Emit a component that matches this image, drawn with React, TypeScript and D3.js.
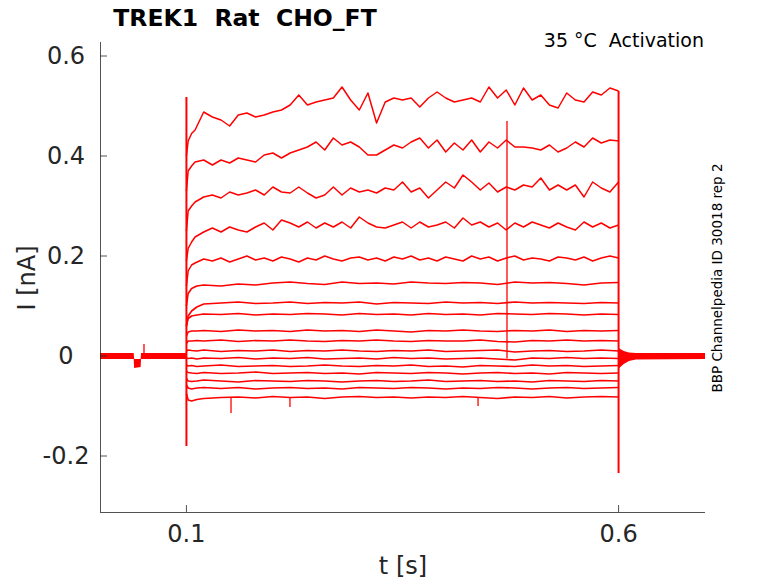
import * as d3 from "d3";

// Axis ticks
const xTicks = [0.1, 0.6];
const yTicks = [-0.2, 0, 0.2, 0.4, 0.6];

// Sample times (s) for the large sweeps: onset, then every 10 ms
const fineTimes = [
  0.1, 0.102, 0.106, 0.11, 0.12, 0.13, 0.14, 0.15, 0.16, 0.17, 0.18, 0.19, 0.2, 0.21, 0.22,
  0.23, 0.24, 0.25, 0.26, 0.27, 0.28, 0.29, 0.3, 0.31, 0.32, 0.33, 0.34, 0.35, 0.36, 0.37,
  0.38, 0.39, 0.4, 0.41, 0.42, 0.43, 0.44, 0.45, 0.46, 0.47, 0.48, 0.49, 0.5, 0.51, 0.52,
  0.53, 0.54, 0.55, 0.56, 0.57, 0.58, 0.59, 0.6,
];

// Sample times (s) for the small sweeps: onset, then every 20 ms
const coarseTimes = [
  0.1, 0.102, 0.106, 0.112, 0.12, 0.14, 0.16, 0.18, 0.2, 0.22, 0.24, 0.26, 0.28, 0.3, 0.32,
  0.34, 0.36, 0.38, 0.4, 0.42, 0.44, 0.46, 0.48, 0.5, 0.52, 0.54, 0.56, 0.58, 0.6,
];

// Current of each sweep (nA), top to bottom
const sweep01 = [0.4, 0.43, 0.445, 0.452, 0.488, 0.478, 0.472, 0.46, 0.482, 0.486, 0.478, 0.482, 0.488, 0.492, 0.502, 0.522, 0.502, 0.508, 0.512, 0.516, 0.538, 0.512, 0.492, 0.526, 0.466, 0.508, 0.516, 0.512, 0.516, 0.498, 0.516, 0.528, 0.516, 0.508, 0.512, 0.516, 0.508, 0.538, 0.516, 0.532, 0.502, 0.536, 0.512, 0.522, 0.502, 0.496, 0.526, 0.512, 0.508, 0.528, 0.522, 0.536, 0.53];
const sweep02 = [0.33, 0.37, 0.38, 0.388, 0.392, 0.382, 0.392, 0.386, 0.396, 0.392, 0.388, 0.402, 0.406, 0.396, 0.406, 0.412, 0.418, 0.428, 0.412, 0.436, 0.422, 0.428, 0.418, 0.402, 0.402, 0.412, 0.422, 0.416, 0.428, 0.436, 0.416, 0.432, 0.408, 0.426, 0.412, 0.432, 0.408, 0.428, 0.416, 0.432, 0.418, 0.418, 0.416, 0.412, 0.422, 0.408, 0.416, 0.428, 0.418, 0.436, 0.426, 0.432, 0.43];
const sweep03 = [0.25, 0.29, 0.3, 0.308, 0.318, 0.322, 0.316, 0.328, 0.322, 0.326, 0.332, 0.322, 0.338, 0.328, 0.326, 0.338, 0.326, 0.316, 0.322, 0.338, 0.322, 0.336, 0.328, 0.332, 0.326, 0.336, 0.332, 0.348, 0.328, 0.336, 0.316, 0.332, 0.348, 0.336, 0.362, 0.348, 0.332, 0.346, 0.328, 0.338, 0.332, 0.342, 0.338, 0.356, 0.332, 0.342, 0.332, 0.342, 0.318, 0.348, 0.336, 0.328, 0.348];
const sweep04 = [0.19, 0.215, 0.228, 0.238, 0.248, 0.256, 0.248, 0.258, 0.252, 0.248, 0.258, 0.266, 0.252, 0.272, 0.266, 0.258, 0.268, 0.256, 0.266, 0.258, 0.268, 0.256, 0.278, 0.266, 0.258, 0.256, 0.262, 0.268, 0.256, 0.268, 0.258, 0.262, 0.268, 0.256, 0.276, 0.262, 0.268, 0.258, 0.266, 0.252, 0.266, 0.258, 0.268, 0.262, 0.256, 0.266, 0.258, 0.252, 0.268, 0.258, 0.266, 0.256, 0.262];
const sweep05 = [0.14, 0.17, 0.182, 0.186, 0.194, 0.19, 0.196, 0.188, 0.194, 0.2, 0.192, 0.196, 0.19, 0.198, 0.194, 0.188, 0.196, 0.192, 0.2, 0.194, 0.19, 0.196, 0.198, 0.192, 0.196, 0.19, 0.198, 0.194, 0.2, 0.192, 0.196, 0.19, 0.198, 0.194, 0.19, 0.2, 0.194, 0.198, 0.19, 0.196, 0.2, 0.192, 0.196, 0.194, 0.19, 0.198, 0.196, 0.192, 0.198, 0.19, 0.196, 0.2, 0.196];
const sweep06 = [0.1, 0.125, 0.135, 0.14, 0.142, 0.14, 0.144, 0.142, 0.146, 0.148, 0.145, 0.143, 0.148, 0.145, 0.146, 0.144, 0.148, 0.146, 0.145, 0.147, 0.146, 0.143, 0.148, 0.146, 0.147, 0.145, 0.142, 0.146, 0.147];
const sweep07 = [0.06, 0.08, 0.09, 0.098, 0.104, 0.106, 0.108, 0.105, 0.106, 0.108, 0.105, 0.107, 0.106, 0.108, 0.104, 0.107, 0.106, 0.105, 0.108, 0.106, 0.107, 0.105, 0.108, 0.106, 0.107, 0.106, 0.105, 0.107, 0.106];
const sweep08 = [0.06, 0.075, 0.08, 0.082, 0.084, 0.083, 0.085, 0.082, 0.084, 0.083, 0.085, 0.084, 0.082, 0.085, 0.083, 0.084, 0.082, 0.085, 0.083, 0.084, 0.082, 0.085, 0.084, 0.083, 0.085, 0.084, 0.082, 0.084, 0.083];
const sweep09 = [0.04, 0.048, 0.05, 0.05, 0.051, 0.049, 0.052, 0.05, 0.051, 0.049, 0.052, 0.05, 0.051, 0.049, 0.052, 0.05, 0.048, 0.051, 0.05, 0.052, 0.05, 0.049, 0.051, 0.05, 0.052, 0.049, 0.051, 0.05, 0.051];
const sweep10 = [0.025, 0.03, 0.03, 0.031, 0.03, 0.032, 0.029, 0.031, 0.03, 0.032, 0.03, 0.029, 0.031, 0.03, 0.032, 0.03, 0.029, 0.031, 0.03, 0.03, 0.032, 0.029, 0.028, 0.031, 0.03, 0.032, 0.03, 0.031, 0.03];
const sweep11 = [0.01, 0.012, 0.011, 0.01, 0.012, 0.009, 0.011, 0.01, 0.012, 0.009, 0.011, 0.01, 0.012, 0.01, 0.009, 0.011, 0.01, 0.012, 0.009, 0.01, 0.011, 0.012, 0.008, 0.01, 0.011, 0.009, 0.01, 0.012, 0.01];
const sweep12 = [-0.004, -0.005, -0.004, -0.006, -0.004, -0.005, -0.003, -0.006, -0.004, -0.005, -0.003, -0.006, -0.005, -0.004, -0.006, -0.003, -0.005, -0.004, -0.006, -0.005, -0.004, -0.006, -0.008, -0.004, -0.005, -0.003, -0.005, -0.004, -0.005];
const sweep13 = [-0.018, -0.02, -0.019, -0.021, -0.02, -0.018, -0.021, -0.02, -0.019, -0.021, -0.02, -0.018, -0.02, -0.021, -0.019, -0.02, -0.018, -0.021, -0.02, -0.022, -0.019, -0.02, -0.021, -0.018, -0.02, -0.019, -0.021, -0.02, -0.019];
const sweep14 = [-0.03, -0.033, -0.034, -0.035, -0.033, -0.035, -0.034, -0.032, -0.035, -0.034, -0.033, -0.035, -0.034, -0.036, -0.033, -0.034, -0.035, -0.033, -0.034, -0.036, -0.034, -0.033, -0.035, -0.034, -0.036, -0.033, -0.034, -0.035, -0.034];
const sweep15 = [-0.045, -0.05, -0.051, -0.05, -0.048, -0.05, -0.052, -0.049, -0.05, -0.051, -0.049, -0.05, -0.052, -0.05, -0.049, -0.051, -0.05, -0.048, -0.051, -0.05, -0.049, -0.051, -0.05, -0.052, -0.049, -0.05, -0.051, -0.049, -0.05];
const sweep16 = [-0.058, -0.064, -0.066, -0.064, -0.063, -0.065, -0.063, -0.066, -0.064, -0.063, -0.065, -0.064, -0.066, -0.063, -0.064, -0.065, -0.063, -0.064, -0.066, -0.064, -0.065, -0.063, -0.064, -0.066, -0.064, -0.063, -0.065, -0.064, -0.063];
const sweep17 = [-0.075, -0.088, -0.09, -0.087, -0.085, -0.083, -0.082, -0.084, -0.081, -0.083, -0.082, -0.085, -0.082, -0.081, -0.083, -0.082, -0.084, -0.082, -0.083, -0.081, -0.083, -0.085, -0.082, -0.083, -0.081, -0.084, -0.082, -0.081, -0.082];

const largeSweeps = [sweep01, sweep02, sweep03, sweep04, sweep05];
const smallSweeps = [
  sweep06, sweep07, sweep08, sweep09, sweep10, sweep11, sweep12, sweep13, sweep14,
  sweep15, sweep16, sweep17,
];

// Holding-level band before the step (overlapping sweeps), nA
const preTimes = [0, 0.039, 0.0395, 0.047, 0.0475, 0.1];
const preUpper = [0.006, 0.006, -0.006, -0.006, 0.006, 0.006];
const preLower = [-0.006, -0.006, -0.024, -0.022, -0.006, -0.006];

// Holding-level band after the step, nA
const postTimes = [0.6, 0.602, 0.606, 0.612, 0.62, 0.7];
const postUpper = [0.016, 0.014, 0.01, 0.007, 0.006, 0.006];
const postLower = [-0.026, -0.022, -0.016, -0.01, -0.007, -0.006];

// Fast artifacts: time, start and end current (nA)
const spikeTimes = [0.1, 0.6, 0.4709, 0.0509, 0.1516, 0.2198, 0.4374];
const spikeFrom = [-0.18, -0.234, -0.005, 0.0, -0.083, -0.082, -0.082];
const spikeTo = [0.518, 0.53, 0.47, 0.024, -0.114, -0.102, -0.1];

const W = 778;
const H = 583;
const axisColor = "#262626";
const font = "DejaVu Sans, sans-serif";

export default function App() {
  const x = d3.scaleLinear().domain([0, 0.7]).range([100, 705]);
  const y = d3.scaleLinear().domain([-0.312, 0.628]).range([512, 42]);

  const traceLine = (times: number[]) =>
    d3
      .line<number>()
      .x((_, i) => x(times[i]))
      .y((d) => y(d));

  const fineLine = traceLine(fineTimes);
  const coarseLine = traceLine(coarseTimes);

  const band = (times: number[], upper: number[], lower: number[]) =>
    d3
      .area<number>()
      .x((t) => x(t))
      .y0((_, i) => y(lower[i]))
      .y1((_, i) => y(upper[i]))(times) ?? "";

  const [x0, x1] = x.range();
  const [yBottom, yTop] = y.range();

  return (
    <svg
      width={W}
      height={H}
      viewBox={`0 0 ${W} ${H}`}
      style={{ position: "absolute", left: 0, top: 0, background: "#fff" }}
    >
      {/* traces */}
      <g fill="none" stroke="#ff0000" strokeLinejoin="round">
        {largeSweeps.map((s, i) => (
          <path key={`l-${i}`} d={fineLine(s) ?? ""} strokeWidth={1.5} />
        ))}
        {smallSweeps.map((s, i) => (
          <path key={`s-${i}`} d={coarseLine(s) ?? ""} strokeWidth={1.6} />
        ))}
        {spikeTimes.map((t, i) => (
          <line
            key={`sp-${i}`}
            x1={x(t)}
            x2={x(t)}
            y1={y(spikeFrom[i])}
            y2={y(spikeTo[i])}
            strokeWidth={i < 2 ? 2 : 1.3}
          />
        ))}
      </g>
      <path d={band(preTimes, preUpper, preLower)} fill="#ff0000" />
      <path d={band(postTimes, postUpper, postLower)} fill="#ff0000" />

      {/* axes */}
      <g stroke={axisColor} strokeWidth={0.8} fill="none">
        <line x1={x0 + 0.5} x2={x0 + 0.5} y1={yBottom} y2={yTop} />
        <line x1={x0} x2={x1} y1={yBottom + 0.5} y2={yBottom + 0.5} />
        {yTicks.map((v) => (
          <line key={v} x1={x0} x2={x0 + 7} y1={y(v)} y2={y(v)} />
        ))}
        {xTicks.map((v) => (
          <line key={v} x1={x(v)} x2={x(v)} y1={yBottom} y2={yBottom - 7} />
        ))}
      </g>
      <g fill={axisColor} fontFamily={font} fontSize={24}>
        {yTicks.map((v) => (
          <text key={v} x={66} y={y(v)} textAnchor="middle" dominantBaseline="central">
            {v === 0 ? "0" : String(v)}
          </text>
        ))}
        {xTicks.map((v) => (
          <text key={v} x={x(v)} y={542} textAnchor="middle">
            {String(v)}
          </text>
        ))}
        <text x={403} y={574} textAnchor="middle">
          t [s]
        </text>
        <text transform="translate(35,278) rotate(-90)" textAnchor="middle">
          I [nA]
        </text>
      </g>

      {/* titles and notes */}
      <text
        x={245}
        y={26}
        textAnchor="middle"
        fontFamily={font}
        fontWeight="bold"
        fontSize={23.5}
        fill="#000"
        style={{ whiteSpace: "pre" }}
      >
        {"TREK1  Rat  CHO_FT"}
      </text>
      <text
        x={704}
        y={47}
        textAnchor="end"
        fontFamily={font}
        fontSize={19}
        fill="#000"
        style={{ whiteSpace: "pre" }}
      >
        {"35 °C  Activation"}
      </text>
      <text
        transform="translate(722,278) rotate(-90)"
        textAnchor="middle"
        fontFamily={font}
        fontSize={13.5}
        fill="#000"
      >
        BBP Channelpedia ID 30018 rep 2
      </text>
    </svg>
  );
}
